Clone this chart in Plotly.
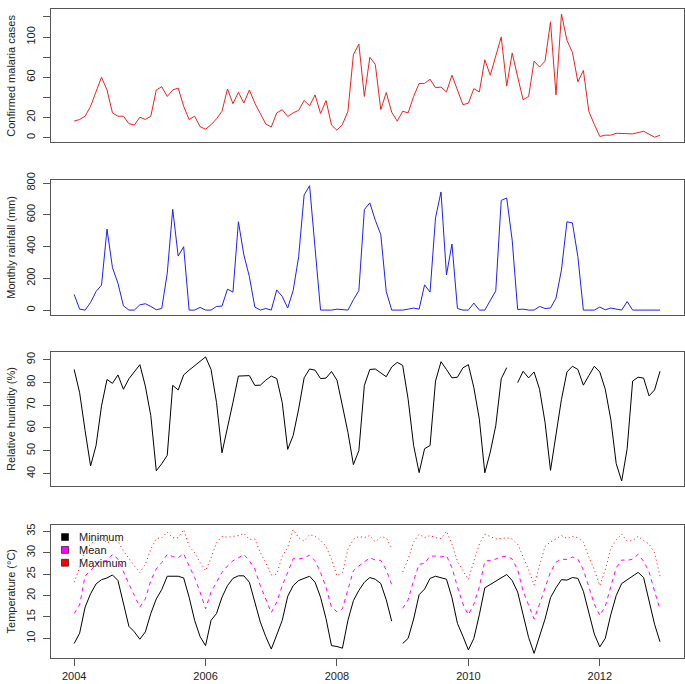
import plotly.graph_objects as go

# ---------------- data (monthly, Jan 2004 - Dec 2012) ----------------
years = list(range(2004, 2013))
month_index = list(range(12))

malaria_cases = [
    16.3, 17.9, 21.2, 31, 45.6, 60, 47.3, 24.5, 21.2, 21.2, 13.7, 12.4,
    20.2, 17.9, 21.2, 47.3, 50.5, 40.8, 47.3, 49.2, 31, 17.9, 21.2, 10.8,
    8.2, 12.7, 18.6, 26.1, 48.3, 33.6, 45, 34.2, 47.3, 34.2, 23.8, 13.4,
    10.4, 24.5, 27.7, 20.9, 24.5, 27, 36.8, 31.6, 42.4, 23.8, 36.8, 12.4,
    7.2, 13, 26.1, 82.5, 92.9, 40.8, 79.9, 72.7, 27.7, 44.7, 25.1, 16.3,
    26.1, 24.5, 40.8, 53.8, 53.8, 58, 49.6, 50.2, 45.3, 62, 47.3, 32.6,
    34.2, 48.6, 45.3, 77.3, 62, 79.9, 100.1, 51.2, 84.1, 60.3, 37.5, 40.8,
    76, 70.1, 76, 115.1, 42.4, 122.9, 96.8, 84.8, 55.4, 66.8, 26.1, 13,
    1, 2.3, 2.3, 4.2, 3.9, 3.3, 3.6, 4.9, 6.2, 3.3, 0.3, 2.3,
]

rainfall_mm = [
    98, 6, 0, 48, 117, 157, 510, 267, 169, 27, 0, 0,
    33, 40, 23, 2, 10, 232, 635, 340, 399, 0, 0, 17,
    0, 0, 23, 25, 132, 113, 556, 347, 211, 19, 0, 10,
    0, 127, 86, 13, 123, 336, 725, 783, 390, 0, 0, 0,
    6, 4, 0, 65, 123, 633, 675, 566, 476, 117, 0, 0,
    0, 6, 13, 6, 159, 113, 581, 744, 221, 416, 10, 0,
    0, 44, 0, 0, 61, 121, 691, 706, 440, 4, 6, 0,
    0, 23, 10, 13, 75, 253, 556, 549, 336, 0, 0, 0,
    19, 2, 13, 6, 0, 54, 0, 0, 0, 0, 0, 0,
]

humidity_pct = [
    85.7, 75.5, 58.8, 43.3, 52.3, 69.7, 81.3, 79.6, 83.3, 77, 81.6, 84.9,
    87.8, 78.4, 65.4, 41.2, 44.3, 48, 78.7, 76.7, 83.3, 85.4, 87.4, 89.4,
    91.2, 85.7, 71.2, 49.1, 59.6, 71.2, 82.8, 83, 83, 78.7, 78.8, 81,
    82.8, 81.7, 71.2, 50.6, 56.7, 68.3, 82, 85.9, 85.4, 81.7, 81.9, 84.8,
    81, 69.7, 58.1, 43.9, 50.1, 78.7, 85.7, 85.9, 84.2, 82.5, 86.8, 88.8,
    87.5, 72.6, 52.3, 40.4, 50.9, 52.3, 80.6, 89.1, 85.7, 82, 82.3, 86.4,
    87.8, 77.7, 63.9, 40.3, 49.4, 61, 81.6, 86.5, None, 79.9, 84.9, 82,
    84.6, 77, 62.5, 41.4, 58.1, 72.6, 84.6, 87.1, 85.7, 78.8, 83, 87.1,
    84.6, 77, 63.9, 44.3, 36.7, 50.9, 80.6, 82.3, 81.9, 74.1, 76.7, 84.9,
]

temp_min = [
    8.8, 11.2, 17.3, 20.4, 22.7, 23.7, 24.1, 24.8, 23.5, 18.1, 12.8, 11.5,
    9.8, 11.5, 15.8, 19.2, 21.4, 24.5, 24.5, 24.5, 24.1, 19.6, 14.2, 10.4,
    8.3, 14.2, 15.8, 19.6, 22.3, 24, 24.6, 24.6, 23.1, 18.5, 13.8, 10.4,
    7.5, 10.8, 14.2, 19.8, 22.3, 23.5, 24, 24.5, 23.1, 19.6, 14.6, 8.3,
    8.1, 7.7, 14.2, 18.8, 21.2, 23.1, 24.2, 23.8, 22.8, 19, 14, None,
    8.8, 10, 14.5, 20.2, 21.5, 24, 24.5, 24.2, 23.8, 19.5, 13.5, 10.5,
    7.3, 10, 15.5, 21.8, 22.6, 23.4, 24.2, 24.9, 23.5, 20.8, 15.5, 10.2,
    6.5, 10.5, 14.5, 19.5, 21.8, 23.7, 23.6, 24.2, 24, 21, 16, 11,
    8, 10, 15.5, 20, 22.8, 23.7, 24.5, 25.4, 24.2, 19, 13.3, 9.2,
]

temp_mean = [
    15.8, 17.8, 24.6, 25.8, 27.3, 28.1, 28.1, 29.6, 28.5, 25.4, 22.7, 20,
    17.3, 19.2, 23.5, 26.2, 27.7, 29.6, 29.1, 28.8, 29.8, 26.9, 24.2, 20.8,
    16.9, 20.8, 23.1, 25.4, 26.9, 28.1, 28.8, 29.6, 28.1, 26.2, 22.3, 19.2,
    16, 18.5, 22.3, 25.4, 28.6, 28.5, 28.8, 29.4, 28.1, 25.4, 21.9, 17.3,
    16.2, 16.9, 21.5, 25.8, 26.9, 27.8, 28.8, 28.3, 28.2, 26, 22.5, None,
    17, 19, 23.5, 27.3, 27.5, 29.2, 29.2, 29, 29.3, 26.5, 22, 18,
    15.5, 18, 22, 28, 28.2, 28.5, 29, 29.2, 28.5, 26, 21, 17.5,
    14.5, 18, 22, 25.5, 27.8, 28.5, 28.4, 29, 28.5, 26, 22, 18,
    15.3, 17.5, 22, 26.5, 28.3, 28.2, 28.5, 29.6, 28, 25.5, 21, 16.7,
]

temp_max = [
    23.1, 26.5, 30.8, 31.9, 33.1, 33.5, 32.3, 32.9, 32.7, 30.4, 28.5, 26.9,
    25.4, 27.3, 30.8, 33.3, 33.5, 34.8, 33.5, 33.5, 35.4, 31.5, 30, 27.7,
    25.8, 28.8, 32.3, 33.8, 33.6, 33.8, 34, 34.5, 33.1, 33.2, 30, 27.7,
    24.8, 25, 29.2, 31.2, 35.4, 33.5, 32.7, 34.2, 33.8, 32.9, 31.5, 28.5,
    24.6, 25.4, 30.8, 33.1, 33.8, 33.5, 34, 32.5, 33.7, 33.5, 31, None,
    25.5, 28.5, 32.5, 34.3, 33.5, 34, 33.5, 33.3, 35, 32, 28, 26,
    23.7, 28, 32, 34.3, 33.8, 33.2, 33.3, 33.5, 33.2, 32, 29, 26,
    22.5, 27, 31.5, 32.5, 33.2, 34, 33.3, 33.8, 33.5, 32.5, 29, 26,
    22.3, 26, 31, 33, 34.3, 32.7, 32.8, 33.8, 32.8, 32, 30, 24.5,
]

x_tick_years = [2004, 2006, 2008, 2010, 2012]
malaria_ticks = [0, 20, 40, 60, 80, 100, 120]
malaria_ticktext = ["0", "20", "", "60", "", "100", ""]
rain_ticks = [0, 200, 400, 600, 800]
hum_ticks = [40, 50, 60, 70, 80, 90]
temp_ticks = [10, 15, 20, 25, 30, 35]
legend_labels = ["Minimum", "Mean", "Maximum"]
legend_colors = ["black", "magenta", "red"]

# decimal-year positions of the months
t = [y + m / 12 for y in years for m in month_index]

# ---------------- figure ----------------
W, H = 685, 684
FONT = "Liberation Sans, Arial, sans-serif"
AX = "#555555"

def py(px):  # pixel (from top) -> paper y
    return 1 - px / H

def pxx(px):
    return px / W

panels = [(1, 136), (174.5, 310.7), (348, 483.7), (522.7, 658)]
x_dom = [pxx(50.7), pxx(683.5)]
x_range = [2003.643, 2013.274]

fig = go.Figure()

fig.add_trace(go.Scatter(x=t, y=malaria_cases, mode="lines",
                         line=dict(color="#f02020", width=1), xaxis="x", yaxis="y",
                         showlegend=False))
fig.add_trace(go.Scatter(x=t, y=rainfall_mm, mode="lines",
                         line=dict(color="#2020f0", width=1), xaxis="x2", yaxis="y2",
                         showlegend=False))
fig.add_trace(go.Scatter(x=t, y=humidity_pct, mode="lines",
                         line=dict(color="black", width=1), xaxis="x3", yaxis="y3",
                         showlegend=False))
fig.add_trace(go.Scatter(x=t, y=temp_min, mode="lines", name=legend_labels[0],
                         line=dict(color="black", width=1), xaxis="x4", yaxis="y4",
                         showlegend=False))
fig.add_trace(go.Scatter(x=t, y=temp_mean, mode="lines", name=legend_labels[1],
                         line=dict(color="magenta", width=1, dash="4px,4px"),
                         xaxis="x4", yaxis="y4", showlegend=False))
fig.add_trace(go.Scatter(x=t, y=temp_max, mode="lines", name=legend_labels[2],
                         line=dict(color="red", width=1, dash="1px,3px"),
                         xaxis="x4", yaxis="y4", showlegend=False))

common = dict(showline=True, mirror=True, linecolor=AX, linewidth=1,
              showgrid=False, zeroline=False)
yax = dict(common, ticks="outside", ticklen=7, tickcolor=AX, tickwidth=1,
           tickangle=-90, ticklabelstandoff=3,
           tickfont=dict(family=FONT, size=11, color="#222"))

y_ranges = [[-4.9, 127.9], [-31.4, 816.4], [34.5, 93.4], [5.34, 36.56]]
y_tickvals = [malaria_ticks, rain_ticks, hum_ticks, temp_ticks]
y_ticktext = [malaria_ticktext, [str(v) for v in rain_ticks],
              [str(v) for v in hum_ticks], [str(v) for v in temp_ticks]]

layout = dict(width=W, height=H, margin=dict(l=0, r=0, t=0, b=0),
              plot_bgcolor="white", paper_bgcolor="white",
              font=dict(family=FONT, size=11, color="#222"), showlegend=False)

for k in range(4):
    sfx = "" if k == 0 else str(k + 1)
    top, bot = panels[k]
    xa = dict(common, domain=x_dom, range=x_range, anchor="y" + sfx)
    if k < 3:
        xa.update(showticklabels=False, ticks="")
    else:
        xa.update(tickvals=x_tick_years, ticktext=[str(v) for v in x_tick_years],
                  ticks="outside", ticklen=7, tickcolor=AX, tickwidth=1,
                  tickfont=dict(family=FONT, size=11, color="#222"))
    ya = dict(yax, domain=[py(bot), py(top)], range=y_ranges[k],
              tickvals=y_tickvals[k], ticktext=y_ticktext[k], anchor="x" + sfx)
    layout["xaxis" + sfx] = xa
    layout["yaxis" + sfx] = ya

fig.update_layout(**layout)

# y-axis titles
titles = ["Confirmed malaria cases", "Monthly rainfall (mm)",
          "Relative humidity (%)", "Temperature (\u00b0C)"]
for k, ttl in enumerate(titles):
    top, bot = panels[k]
    fig.add_annotation(text=ttl, x=pxx(11), y=py((top + bot) / 2), xref="paper",
                       yref="paper", textangle=-90, showarrow=False,
                       xanchor="center", yanchor="middle",
                       font=dict(family=FONT, size=11, color="#222"))

# legend in temperature panel (top-left)
leg_y = [535.3, 548.3, 561.3]
for lab, col, yy in zip(legend_labels, legend_colors, leg_y):
    fig.add_shape(type="rect", xref="paper", yref="paper",
                  x0=pxx(61.5), x1=pxx(68.5), y0=py(yy + 3.5), y1=py(yy - 3.5),
                  fillcolor=col, line=dict(color="black", width=0.6))
    fig.add_annotation(text=lab, x=pxx(76.5), y=py(yy), xref="paper", yref="paper",
                       showarrow=False, xanchor="left", yanchor="middle",
                       font=dict(family=FONT, size=11, color="#222"))

fig.write_html(
    "out.html",
    config={"displayModeBar": False},
    post_script="document.body.style.margin='0';"
                "document.body.style.overflow='hidden';",
)
